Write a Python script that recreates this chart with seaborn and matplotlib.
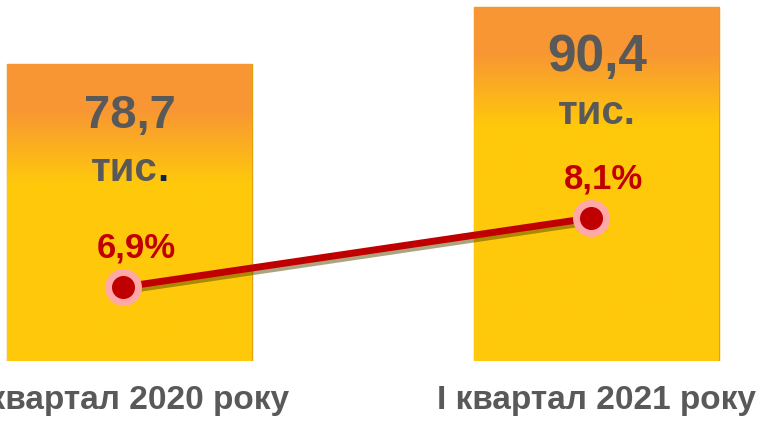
import numpy as np
import pandas as pd
import matplotlib
matplotlib.use("Agg")
import matplotlib.pyplot as plt
import matplotlib.patheffects as pe
from matplotlib import transforms
import seaborn as sns

# Chart data
categories = ["І квартал 2020 року", "І квартал 2021 року"]
employed = [78.7, 90.4]              # thousand people
employed_labels = ["78,7", "90,4"]
unit_label = "тис."
share = [6.9, 8.1]                   # percent
share_labels = ["6,9%", "8,1%"]

sns.set_theme(style="white")
plt.rcParams["font.family"] = ["Liberation Sans", "DejaVu Sans"]

df = pd.DataFrame({"period": categories, "value": employed, "share": share})

GRAY = "#595959"
RED = "#C00000"
PINK = "#FFA8A8"
ORANGE = np.array([248, 150, 52]) / 255
YELLOW = np.array([255, 201, 11]) / 255

fig = plt.figure(figsize=(7.61, 4.21), dpi=100)
ax = fig.add_axes([0, 0.1425, 1, 0.8575])

sns.barplot(data=df, x="period", y="value", width=0.524, color="#FFC90B",
            saturation=1, ax=ax)

y0, y1 = 17.74, 91.84
xlim = (-0.277, 1.351)
px_per_unit = 361 / (y1 - y0)

# Gradient fill: orange at the top, yellow below
for patch in ax.patches:
    x = patch.get_x()
    w = patch.get_width()
    h = patch.get_height()
    patch.set_edgecolor("#E3A20A")
    patch.set_linewidth(1.0)
    ys = np.linspace(h, y0, 300)
    dist = (h - ys) * px_per_unit
    t = np.clip((dist - 45) / 75, 0, 1)[:, None]
    rgb = ORANGE * (1 - t) + YELLOW * t
    img = np.repeat(rgb[:, None, :], 2, axis=1)
    im = ax.imshow(img, extent=(x, x + w, y0, h), aspect="auto", zorder=2,
                   interpolation="bilinear")
    im.set_clip_path(patch)

ax.set_ylim(y0, y1)
ax.set_xlim(*xlim)

value_sizes = [34, 37]
for i, (v, lbl) in enumerate(zip(employed, employed_labels)):
    ax.annotate(lbl, xy=(i, v), xytext=(0, -46), textcoords="offset points",
                ha="center", va="baseline", fontsize=value_sizes[i],
                fontweight="bold", color=GRAY, zorder=5)
    if i == 0:
        # the dot of the first label is dark navy in the original
        t = ax.annotate(unit_label[:-1], xy=(i, v), xytext=(-4, -84),
                        textcoords="offset points", ha="center", va="baseline",
                        fontsize=29, fontweight="bold", color=GRAY, zorder=5)
        fig.canvas.draw()
        bb = t.get_window_extent()
        cx = ax.transData.transform((i, v))[0]
        dx = (bb.x1 - cx) * 72 / fig.dpi
        ax.annotate(".", xy=(i, v), xytext=(dx, -84),
                    textcoords="offset points", ha="left", va="baseline",
                    fontsize=29, fontweight="bold", color="#0E2841", zorder=6)
    else:
        ax.annotate(unit_label, xy=(i, v), xytext=(0, -84),
                    textcoords="offset points", ha="center", va="baseline",
                    fontsize=29, fontweight="bold", color=GRAY, zorder=5)

ax.set_xticks(range(len(categories)))
ax.set_xticklabels(categories, fontsize=24, fontweight="bold", color=GRAY)
ax.tick_params(axis="x", length=0, pad=17)
ax.set_yticks([])
ax.set_xlabel("")
ax.set_ylabel("")
for s in ax.spines.values():
    s.set_visible(False)

# Share line on a secondary axis
ax2 = ax.twinx()
shift = transforms.offset_copy(ax2.transData, fig=fig, x=-4.5, units="points")
xs = list(range(len(share)))
sns.lineplot(x=xs, y=share, ax=ax2, color=RED, lw=5, transform=shift,
             path_effects=[pe.SimpleLineShadow(offset=(1.5, -2.5),
                                               shadow_color="#5a4a00", alpha=0.5),
                           pe.Normal()])
sns.scatterplot(x=xs, y=share, ax=ax2, s=21.6 ** 2, color=RED,
                edgecolor=PINK, linewidth=5, transform=shift, zorder=6)
for i, (v, lbl) in enumerate(zip(share, share_labels)):
    ax2.annotate(lbl, xy=(i, v), xycoords=shift, xytext=(9.5, 21),
                 textcoords="offset points", ha="center", va="baseline",
                 fontsize=25, fontweight="bold", color=RED)
ax2.set_ylim(5.613, 11.891)
ax2.set_yticks([])
ax2.set_ylabel("")
for s in ax2.spines.values():
    s.set_visible(False)

ax.set_ylim(y0, y1)
ax.set_xlim(*xlim)
ax2.set_xlim(*xlim)

fig.savefig("out.png", dpi=100, facecolor="white")
